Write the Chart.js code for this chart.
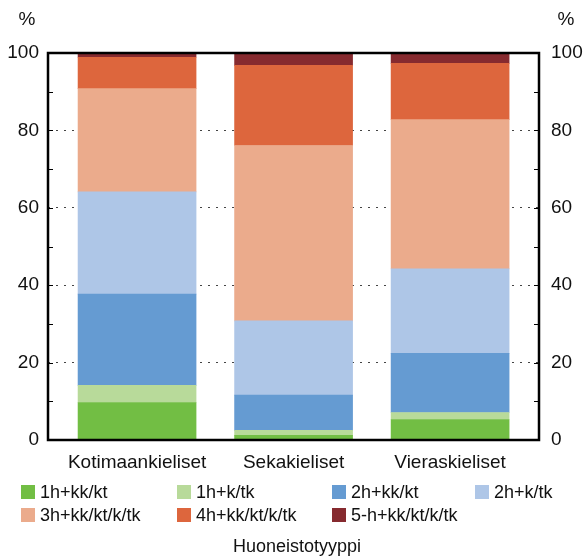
<!DOCTYPE html>
<html>
<head>
<meta charset="utf-8">
<script src="https://cdn.jsdelivr.net/npm/chart.js@4/dist/chart.umd.min.js"></script>
<style>
  body { margin: 0; background: #fff; }
  #wrap { position: relative; width: 584px; height: 557px; font-family: "Liberation Sans", Arial, sans-serif; }
  #legend .item { position: absolute; font-size: 18px; color: #111; line-height: 18px; white-space: nowrap; }
  #legend .box { position: absolute; width: 14px; height: 14px; }
  #title { position: absolute; left: 197px; width: 200px; top: 537px; text-align: center; font-size: 18px; line-height: 18px; color: #111; }
</style>
</head>
<body>
<div id="wrap">
  <canvas id="chart" width="584" height="557"></canvas>
  <div id="legend"></div>
  <div id="title">Huoneistotyyppi</div>
</div>
<script>
const categories = ['Kotimaankieliset', 'Sekakieliset', 'Vieraskieliset'];
const seriesNames = ['1h+kk/kt', '1h+k/tk', '2h+kk/kt', '2h+k/tk', '3h+kk/kt/k/tk', '4h+kk/kt/k/tk', '5-h+kk/kt/k/tk'];
const colors = ['#72be44', '#b8da9a', '#659bd2', '#aec6e7', '#ebab8c', '#dd663d', '#862a2f'];

const s1hkk = [9.7, 1.2, 5.3];
const s1hk = [4.4, 1.3, 1.8];
const s2hkk = [23.6, 9.1, 15.3];
const s2hk = [26.4, 19.2, 21.8];
const s3h = [26.7, 45.3, 38.6];
const s4h = [8.1, 20.7, 14.5];
const s5h = [1.1, 3.2, 2.7];
const series = [s1hkk, s1hk, s2hkk, s2hk, s3h, s4h, s5h];

const yTicks = [0, 20, 40, 60, 80, 100];

const frame = {
  id: 'frame',
  afterDatasetsDraw(chart) {
    const { ctx, chartArea: a, scales } = chart;
    ctx.save();
    ctx.strokeStyle = '#000';
    ctx.lineWidth = 1;
    for (let v = 10; v < 100; v += 10) {
      const y = Math.round(scales.y.getPixelForValue(v)) + 0.5;
      ctx.beginPath();
      ctx.moveTo(a.left, y); ctx.lineTo(a.left + 5, y);
      ctx.moveTo(a.right - 5, y); ctx.lineTo(a.right, y);
      ctx.stroke();
    }
    ctx.lineWidth = 2.5;
    ctx.strokeRect(a.left, a.top, a.right - a.left, a.bottom - a.top);
    ctx.fillStyle = '#111';
    ctx.font = '19px "Liberation Sans", Arial, sans-serif';
    ctx.textAlign = 'center';
    ctx.textBaseline = 'middle';
    ctx.fillText('%', 27, 20);
    ctx.fillText('%', 566, 20);
    ctx.restore();
  }
};

const ctx = document.getElementById('chart').getContext('2d');
const chart = new Chart(ctx, {
  type: 'bar',
  data: {
    datasets: series.map((vals, i) => ({
      label: seriesNames[i],
      data: vals.map((v, j) => ({ x: j, y: v })),
      backgroundColor: colors[i],
      borderWidth: 0,
      barThickness: 118
    }))
  },
  options: {
    responsive: false,
    animation: false,
    layout: { padding: { top: 53, bottom: 87, left: 0, right: 0 } },
    plugins: { legend: { display: false }, tooltip: { enabled: false } },
    scales: {
      x: {
        type: 'linear',
        stacked: true,
        offset: false,
        min: -0.569,
        max: 2.568,
        grid: { display: false, drawTicks: false },
        border: { display: false },
        afterBuildTicks: s => { s.ticks = categories.map((c, i) => ({ value: i })); },
        afterFit: s => { s.height = 30; },
        ticks: {
          callback: v => categories[v],
          color: '#111',
          padding: 11,
          maxRotation: 0,
          autoSkip: false,
          font: { family: '"Liberation Sans", Arial, sans-serif', size: 19 }
        }
      },
      y: {
        stacked: true,
        min: 0,
        max: 100,
        afterFit: s => { s.width = 48; },
        afterBuildTicks: s => { s.ticks = yTicks.map(v => ({ value: v })); },
        grid: { color: '#444', lineWidth: 1, drawTicks: false },
        border: { display: false, dash: [2, 6] },
        ticks: {
          color: '#111',
          padding: 9,
          font: { family: '"Liberation Sans", Arial, sans-serif', size: 19 }
        }
      },
      y2: {
        position: 'right',
        min: 0,
        max: 100,
        afterFit: s => { s.width = 45; },
        afterBuildTicks: s => { s.ticks = yTicks.map(v => ({ value: v })); },
        grid: { display: false, drawTicks: false },
        border: { display: false },
        ticks: {
          color: '#111',
          padding: 12,
          font: { family: '"Liberation Sans", Arial, sans-serif', size: 19 }
        }
      }
    }
  },
  plugins: [frame]
});

// legend laid out in a fixed grid like the original
const colX = [21, 177, 332, 475];
const rowY = [485, 508];
const legend = document.getElementById('legend');
chart.data.datasets.forEach((ds, i) => {
  const x = colX[i % 4], y = rowY[Math.floor(i / 4)];
  const box = document.createElement('div');
  box.className = 'box';
  box.style.left = x + 'px';
  box.style.top = y + 'px';
  box.style.background = ds.backgroundColor;
  legend.appendChild(box);
  const t = document.createElement('div');
  t.className = 'item';
  t.style.left = (x + 19) + 'px';
  t.style.top = (y - 2) + 'px';
  t.textContent = ds.label;
  legend.appendChild(t);
});
</script>
</body>
</html>
